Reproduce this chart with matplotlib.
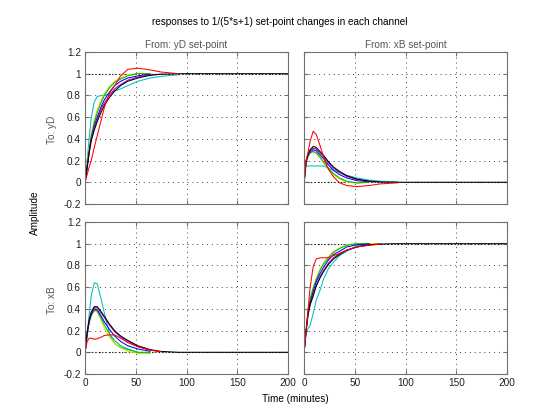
import numpy as np
import matplotlib.pyplot as plt

nan = np.nan

# common sample times (minutes)
t = [0, 2, 4, 6, 9, 12, 16, 19, 24, 29, 35, 42, 52, 64, 75, 92, 200]

# drawing order: red goes last so it stays visible
line_colors = ['#00bfbf', '#d8d800', '#00c000', '#0000ff', '#bf00bf', '#000000', '#ff0000']

# From yD set-point -> To yD  (cyan, yellow, green, blue, magenta, black, red)
yd_yd = [
    [0, 0.20, 0.41, 0.59, 0.74, 0.79, 0.80, 0.80, 0.815, 0.84, 0.86, 0.89, 0.93, 0.96, 0.975, 0.99, nan],
    [0, 0.16, 0.32, 0.44, 0.57, 0.67, 0.76, 0.82, 0.88, 0.93, 0.96, 0.99, 1.005, 1.0, nan, nan, nan],
    [0, 0.15, 0.30, 0.42, 0.55, 0.64, 0.74, 0.80, 0.87, 0.92, 0.95, 0.98, 1.0, 1.0, nan, nan, nan],
    [0, 0.14, 0.28, 0.40, 0.52, 0.60, 0.70, 0.76, 0.83, 0.89, 0.93, 0.96, 0.98, 0.995, nan, nan, nan],
    [0, 0.14, 0.28, 0.40, 0.50, 0.58, 0.68, 0.73, 0.80, 0.86, 0.90, 0.94, 0.97, 0.99, 0.995, nan, nan],
    [0, 0.13, 0.27, 0.38, 0.48, 0.56, 0.65, 0.71, 0.78, 0.84, 0.89, 0.93, 0.96, 0.985, 0.995, 1.0, 1.0],
    [0, 0.07, 0.14, 0.20, 0.32, 0.43, 0.58, 0.69, 0.82, 0.89, 0.98, 1.04, 1.05, 1.035, 1.015, 1.0, nan],
]

# From xB set-point -> To yD
xb_yd = [
    [0, 0.15, 0.15, 0.15, 0.15, 0.15, 0.15, 0.15, 0.13, 0.11, 0.09, 0.065, 0.04, 0.02, 0.01, 0.005, nan],
    [0, 0.18, 0.24, 0.27, 0.28, 0.265, 0.22, 0.18, 0.12, 0.07, 0.03, 0.005, -0.01, 0.0, nan, nan, nan],
    [0, 0.18, 0.24, 0.27, 0.285, 0.27, 0.23, 0.19, 0.13, 0.08, 0.04, 0.01, -0.005, 0.0, nan, nan, nan],
    [0, 0.19, 0.25, 0.28, 0.30, 0.29, 0.25, 0.22, 0.16, 0.11, 0.07, 0.04, 0.015, 0.005, nan, nan, nan],
    [0, 0.20, 0.25, 0.29, 0.315, 0.305, 0.27, 0.24, 0.18, 0.13, 0.09, 0.055, 0.025, 0.01, 0.003, nan, nan],
    [0, 0.20, 0.26, 0.30, 0.33, 0.32, 0.28, 0.25, 0.19, 0.14, 0.10, 0.06, 0.03, 0.01, 0.003, 0.0, 0.0],
    [0, 0.20, 0.28, 0.38, 0.47, 0.44, 0.33, 0.24, 0.12, 0.05, -0.005, -0.03, -0.04, -0.03, -0.015, -0.005, nan],
]

# From yD set-point -> To xB
yd_xb = [
    [0, 0.17, 0.35, 0.52, 0.64, 0.63, 0.48, 0.36, 0.17, 0.08, 0.045, 0.025, 0.0, -0.01, nan, nan, nan],
    [0, 0.17, 0.27, 0.33, 0.38, 0.37, 0.29, 0.22, 0.14, 0.08, 0.04, 0.01, -0.01, -0.005, nan, nan, nan],
    [0, 0.17, 0.28, 0.34, 0.39, 0.38, 0.31, 0.25, 0.17, 0.11, 0.06, 0.03, 0.0, 0.0, nan, nan, nan],
    [0, 0.17, 0.28, 0.35, 0.40, 0.39, 0.33, 0.28, 0.21, 0.15, 0.10, 0.06, 0.03, 0.01, nan, nan, nan],
    [0, 0.18, 0.29, 0.36, 0.41, 0.41, 0.36, 0.32, 0.25, 0.19, 0.14, 0.10, 0.055, 0.02, 0.005, nan, nan],
    [0, 0.18, 0.30, 0.37, 0.42, 0.42, 0.37, 0.33, 0.26, 0.20, 0.15, 0.11, 0.06, 0.025, 0.008, 0.0, 0.0],
    [0, 0.10, 0.13, 0.13, 0.12, 0.125, 0.14, 0.155, 0.16, 0.16, 0.13, 0.09, 0.05, 0.02, 0.005, nan, nan],
]

# From xB set-point -> To xB
xb_xb = [
    [0, 0.18, 0.22, 0.25, 0.36, 0.48, 0.58, 0.67, 0.77, 0.83, 0.89, 0.93, 0.98, 1.0, nan, nan, nan],
    [0, 0.22, 0.40, 0.50, 0.60, 0.68, 0.77, 0.82, 0.88, 0.93, 0.96, 0.99, 1.0, 1.0, 1.0, nan, nan],
    [0, 0.21, 0.39, 0.49, 0.59, 0.67, 0.76, 0.81, 0.87, 0.92, 0.955, 0.985, 1.0, 1.0, nan, nan, nan],
    [0, 0.20, 0.37, 0.46, 0.56, 0.65, 0.73, 0.78, 0.85, 0.90, 0.93, 0.97, 0.99, 0.997, nan, nan, nan],
    [0, 0.19, 0.35, 0.44, 0.53, 0.62, 0.70, 0.75, 0.82, 0.87, 0.91, 0.94, 0.97, 0.99, 0.997, nan, nan],
    [0, 0.20, 0.35, 0.44, 0.52, 0.61, 0.69, 0.74, 0.81, 0.86, 0.90, 0.94, 0.97, 0.99, 0.997, 1.0, 1.0],
    [0, 0.20, 0.40, 0.60, 0.79, 0.86, 0.87, 0.87, 0.87, 0.89, 0.91, 0.94, 0.97, 0.985, 0.995, nan, nan],
]

steady = [[1, 0], [0, 1]]
panels = [[yd_yd, xb_yd], [yd_xb, xb_xb]]
col_titles = ['From: yD set-point', 'From: xB set-point']
row_titles = ['To: yD', 'To: xB']

plt.rcParams['font.family'] = ['Liberation Sans', 'DejaVu Sans']
fs = 7.2

fig = plt.figure(figsize=(5.6, 4.2), dpi=100)
lefts = [0.152, 0.543]
bottoms = [0.5143, 0.1095]
w, h = 0.3625, 0.362
frame = '#707070'

for r in range(2):
    for c in range(2):
        ax = fig.add_axes([lefts[c], bottoms[r], w, h])
        ax.axhline(steady[r][c], color='k', lw=0.8, ls=(0, (1, 2)), zorder=1)
        for vals, col in zip(panels[r][c], line_colors):
            ax.plot(t, vals, color=col, lw=0.75, zorder=2)
        ax.set_xlim(0, 200)
        ax.set_ylim(-0.2, 1.2)
        ax.set_xticks([0, 50, 100, 150, 200])
        ax.set_yticks([-0.2, 0, 0.2, 0.4, 0.6, 0.8, 1, 1.2])
        ax.yaxis.set_major_formatter(plt.FuncFormatter(lambda v, p: f'{v:g}'))
        ax.grid(True, color='#404040', ls=(0, (1, 4)), lw=0.7)
        ax.tick_params(direction='in', length=3, colors=frame, labelcolor='#202020',
                       labelsize=fs, top=True, right=True, pad=3)
        for s in ax.spines.values():
            s.set_color(frame)
            s.set_linewidth(0.8)
        if c == 1:
            ax.tick_params(labelleft=False)
        if r == 0:
            ax.tick_params(labelbottom=False)
            ax.set_title(col_titles[c], fontsize=fs, color='#555555', pad=3)
        if c == 0:
            fig.text(0.093, bottoms[r] + h / 2 - 0.005, row_titles[r], rotation=90,
                     ha='center', va='center', fontsize=fs, color='#555555')

fig.text(0.5, 0.948, 'responses to 1/(5*s+1) set-point changes in each channel',
         ha='center', va='center', fontsize=fs)
fig.text(0.063, 0.493, 'Amplitude', rotation=90, ha='center', va='center', fontsize=fs)
fig.text(0.528, 0.05, 'Time (minutes)', ha='center', va='center', fontsize=fs)

fig.savefig('out.png', dpi=100)
